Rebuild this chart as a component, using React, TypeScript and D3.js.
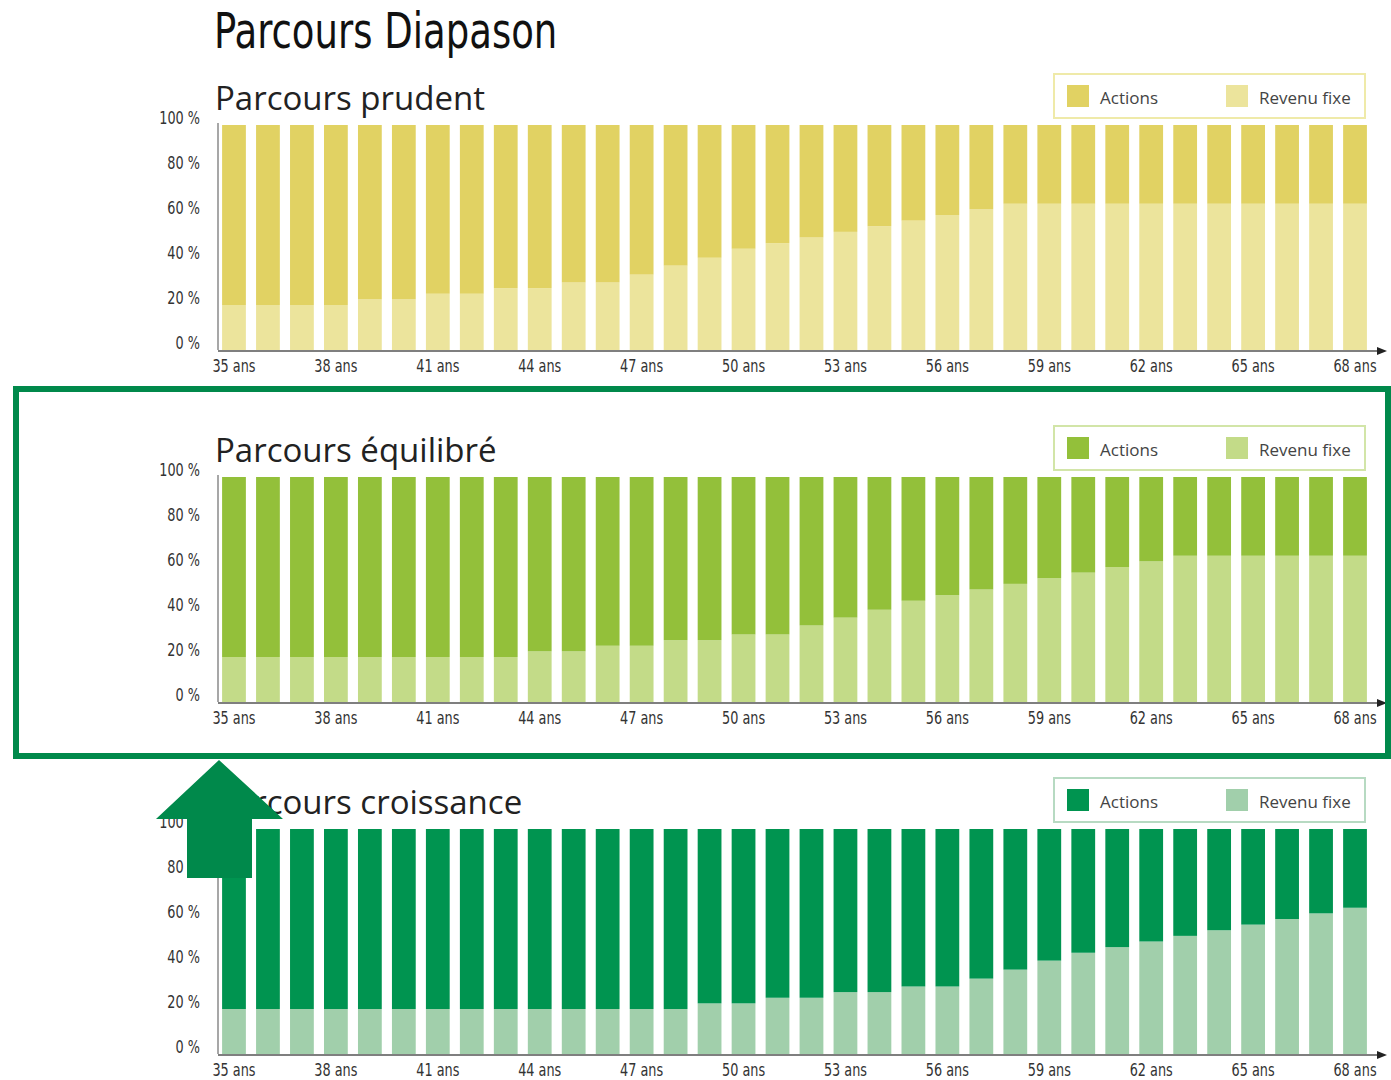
import React from 'react'
import * as d3 from 'd3'

// ages on the x axis, one bar each
const ages = [35, 36, 37, 38, 39, 40, 41, 42, 43, 44, 45, 46, 47, 48, 49, 50, 51,
  52, 53, 54, 55, 56, 57, 58, 59, 60, 61, 62, 63, 64, 65, 66, 67, 68]
const ageTicks = [35, 38, 41, 44, 47, 50, 53, 56, 59, 62, 65, 68]
const pctTicks = [0, 20, 40, 60, 80, 100]

// Parcours prudent
const prudentRevenu = [20, 20, 20, 20, 22.5, 22.5, 25, 25, 27.5, 27.5, 30, 30, 33.5, 37.5, 41, 45, 47.5,
  50, 52.5, 55, 57.5, 60, 62.5, 65, 65, 65, 65, 65, 65, 65, 65, 65, 65, 65]
const prudentActions = [80, 80, 80, 80, 77.5, 77.5, 75, 75, 72.5, 72.5, 70, 70, 66.5, 62.5, 59, 55, 52.5,
  50, 47.5, 45, 42.5, 40, 37.5, 35, 35, 35, 35, 35, 35, 35, 35, 35, 35, 35]

// Parcours équilibré
const equilibreRevenu = [20, 20, 20, 20, 20, 20, 20, 20, 20, 22.5, 22.5, 25, 25, 27.5, 27.5, 30, 30,
  34, 37.5, 41, 45, 47.5, 50, 52.5, 55, 57.5, 60, 62.5, 65, 65, 65, 65, 65, 65]
const equilibreActions = [80, 80, 80, 80, 80, 80, 80, 80, 80, 77.5, 77.5, 75, 75, 72.5, 72.5, 70, 70,
  66, 62.5, 59, 55, 52.5, 50, 47.5, 45, 42.5, 40, 37.5, 35, 35, 35, 35, 35, 35]

// Parcours croissance
const croissanceRevenu = [20, 20, 20, 20, 20, 20, 20, 20, 20, 20, 20, 20, 20, 20, 22.5, 22.5, 25,
  25, 27.5, 27.5, 30, 30, 33.5, 37.5, 41.5, 45, 47.5, 50, 52.5, 55, 57.5, 60, 62.5, 65]
const croissanceActions = [80, 80, 80, 80, 80, 80, 80, 80, 80, 80, 80, 80, 80, 80, 77.5, 77.5, 75,
  75, 72.5, 72.5, 70, 70, 66.5, 62.5, 58.5, 55, 52.5, 50, 47.5, 45, 42.5, 40, 37.5, 35]

const panels = [
  { title: 'Parcours prudent', revenu: prudentRevenu, actions: prudentActions,
    colors: { actions: '#e1d263', revenu: '#ece49c' }, border: '#efeaa9', top: 125 },
  { title: 'Parcours équilibré', revenu: equilibreRevenu, actions: equilibreActions,
    colors: { actions: '#93c03a', revenu: '#c3db88' }, border: '#d2e5a8', top: 477 },
  { title: 'Parcours croissance', revenu: croissanceRevenu, actions: croissanceActions,
    colors: { actions: '#009450', revenu: '#a1cfab' }, border: '#b7dac2', top: 829 },
]

const cond = '"DejaVu Sans Condensed", "DejaVu Sans", sans-serif'
const sans = '"Open Sans", "Noto Sans", sans-serif'
const plotH = 225

const x = d3.scaleBand<number>().domain(ages).range([217, 1372]).paddingInner(0.3).paddingOuter(0.15)
const y = d3.scaleLinear().domain([0, 100]).range([plotH, 0])
const stack = d3.stack<any>().keys(['revenu', 'actions'])

// narrow-looking text: squeeze horizontally around the anchor point
function Narrow({ x, y, sx, size, anchor, fill, children }: any) {
  return (
    <text transform={`translate(${x},${y}) scale(${sx},1)`} textAnchor={anchor}
      fontFamily={cond} fontSize={size} fill={fill}>{children}</text>
  )
}

function Panel({ p }: { p: typeof panels[0] }) {
  const rows = ages.map((a, i) => ({ age: a, revenu: p.revenu[i], actions: p.actions[i] }))
  const series = stack(rows)
  return (
    <g transform={`translate(0,${p.top})`}>
      <text x={215} y={-15} fontFamily={sans} fontSize={33} fill="#222">{p.title}</text>

      <rect x={1054} y={-51} width={311} height={44} fill="white" stroke={p.border} strokeWidth={2} />
      <rect x={1067} y={-40} width={22} height={22} fill={p.colors.actions} />
      <text x={1100} y={-21} fontFamily={sans} fontSize={17} fill="#444">Actions</text>
      <rect x={1226} y={-40} width={22} height={22} fill={p.colors.revenu} />
      <text x={1259} y={-21} fontFamily={sans} fontSize={17} fill="#444">Revenu fixe</text>

      {series.map(s => (
        <g key={s.key} fill={(p.colors as any)[s.key]}>
          {s.map(d => (
            <rect key={d.data.age} x={x(d.data.age)} width={x.bandwidth()}
              y={y(d[1])} height={y(d[0]) - y(d[1])} />
          ))}
        </g>
      ))}

      {pctTicks.map(t => (
        <Narrow key={t} x={200} y={y(t) - 1} sx={0.84} size={17} anchor="end" fill="#333">
          {t} %
        </Narrow>
      ))}
      <line x1={218} x2={218} y1={-2} y2={plotH} stroke="#8a8a8a" strokeWidth={1.5} />
      <line x1={218} x2={1378} y1={plotH + 1} y2={plotH + 1} stroke="#555" strokeWidth={1.5} />
      <path d={`M1377,${plotH - 3} L1387,${plotH + 1} L1377,${plotH + 5} Z`} fill="#222" />

      {ageTicks.map(a => (
        <Narrow key={a} x={x(a)! + x.bandwidth() / 2} y={plotH + 22} sx={0.84} size={17}
          anchor="middle" fill="#333">
          {a} ans
        </Narrow>
      ))}
    </g>
  )
}

export default function App() {
  return (
    <svg width={1391} height={1080} style={{ position: 'absolute', left: 0, top: 0, background: 'white' }}>
      <Narrow x={214} y={48} sx={0.84} size={49} anchor="start" fill="#111">Parcours Diapason</Narrow>
      {panels.map(p => <Panel key={p.title} p={p} />)}
      <rect x={16} y={389} width={1372} height={367} fill="none" stroke="#00894b" strokeWidth={6} />
      <path d="M219,760 L283,819 L252,819 L252,878 L187,878 L187,819 L156,819 Z" fill="#00894b" />
    </svg>
  )
}
